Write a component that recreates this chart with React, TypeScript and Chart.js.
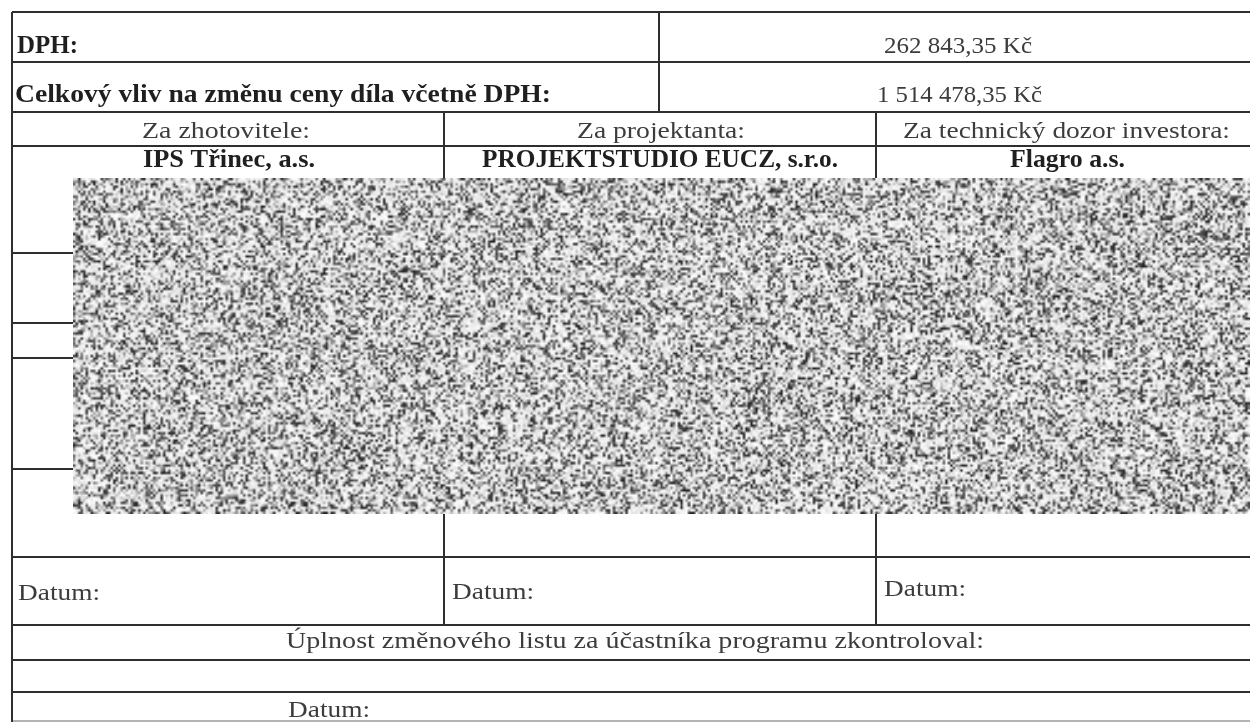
import React, { useEffect, useRef } from "react";
import { Chart, registerables } from "chart.js";

Chart.register(...registerables);

const W = 1250;
const H = 722;

// ---- texts of the form (data) ----
const summaryLabels = ["DPH:", "Celkový vliv na změnu ceny díla včetně DPH:"];
const amountLabels = ["262 843,35 Kč", "1 514 478,35 Kč"];
const roleLabels = ["Za zhotovitele:", "Za projektanta:", "Za technický dozor investora:"];
const partyLabels = ["IPS Třinec, a.s.", "PROJEKTSTUDIO EUCZ, s.r.o.", "Flagro a.s."];
const dateLabel = "Datum:";
const checkLabel = "Úplnost změnového listu za účastníka programu zkontroloval:";

// ---- layout (document units = pixels of the scan) ----
const fullRows = [12, 62, 112, 146, 557, 625, 660, 692];
const stubRows = [253, 323, 358, 469];
const tableLeft = 12;
const tableRight = 1250;
const stubRight = 73;
const vSegments: [number, number, number][] = [
  [12, 12, 722],
  [659, 12, 112],
  [444, 112, 625],
  [876, 112, 625],
];
const bottomEdge = 721;
const redaction = { x0: 73, y0: 178, x1: 1250, y1: 514 };

type TextItem = { text: string; left: number; width: number; base: number; bold: boolean };

const BOLD_COLOR = "#1f1f1f";
const REG_COLOR = "#3c3c3c";
const LINE_COLOR = "#2e2e2e";

const textItems: TextItem[] = [
  { text: summaryLabels[0], left: 17, width: 61, base: 53, bold: true },
  { text: summaryLabels[1], left: 15, width: 536, base: 102, bold: true },
  { text: amountLabels[0], left: 884, width: 148, base: 53, bold: false },
  { text: amountLabels[1], left: 877, width: 165, base: 102, bold: false },
  { text: roleLabels[0], left: 142, width: 168, base: 138, bold: false },
  { text: roleLabels[1], left: 577, width: 168, base: 138, bold: false },
  { text: roleLabels[2], left: 903, width: 327, base: 138, bold: false },
  { text: partyLabels[0], left: 143, width: 172, base: 167, bold: true },
  { text: partyLabels[1], left: 482, width: 356, base: 167, bold: true },
  { text: partyLabels[2], left: 1010, width: 115, base: 167, bold: true },
  { text: dateLabel, left: 18, width: 82, base: 600, bold: false },
  { text: dateLabel, left: 452, width: 82, base: 599, bold: false },
  { text: dateLabel, left: 884, width: 82, base: 596, bold: false },
  { text: checkLabel, left: 286, width: 698, base: 648, bold: false },
  { text: dateLabel, left: 288, width: 82, base: 717, bold: false },
];

function hash(i: number, j: number, s: number): number {
  let n = (Math.imul(i, 374761393) + Math.imul(j, 668265263) + Math.imul(s, 2246822519)) | 0;
  n = Math.imul(n ^ (n >>> 13), 1274126177);
  n = n ^ (n >>> 16);
  return (n >>> 0) / 4294967295;
}

function buildSegments() {
  const segs: { x: number; y: number }[][] = [];
  fullRows.forEach((y) => segs.push([{ x: tableLeft, y }, { x: tableRight, y }]));
  stubRows.forEach((y) => segs.push([{ x: tableLeft, y }, { x: stubRight, y }]));
  vSegments.forEach(([x, y0, y1]) => segs.push([{ x, y: y0 }, { x, y: y1 }]));
  return segs;
}

const formPlugin = {
  id: "formPlugin",
  afterDatasetsDraw(chart: any) {
    const ctx: CanvasRenderingContext2D = chart.ctx;
    const xs = chart.scales.x;
    const ys = chart.scales.y;
    // redaction texture of the scan
    const px0 = xs.getPixelForValue(redaction.x0);
    const px1 = xs.getPixelForValue(redaction.x1);
    const py0 = ys.getPixelForValue(redaction.y0);
    const py1 = ys.getPixelForValue(redaction.y1);
    const rw = Math.round(px1 - px0);
    const rh = Math.round(py1 - py0);
    const f = 2.5;
    const sw = Math.ceil(rw / f);
    const sh = Math.ceil(rh / f);
    const off = document.createElement("canvas");
    off.width = sw;
    off.height = sh;
    const octx = off.getContext("2d")!;
    const img = octx.createImageData(sw, sh);
    for (let j = 0; j < sh; j++) {
      for (let i = 0; i < sw; i++) {
        const v = hash(i, j, 1);
        const t = hash(i, j, 2);
        let g: number;
        if (v < 0.24) g = 30 + 80 * t;
        else if (v < 0.44) g = 125 + 75 * t;
        else g = 222 + 33 * t;
        const k = (j * sw + i) * 4;
        img.data[k] = g;
        img.data[k + 1] = g;
        img.data[k + 2] = g;
        img.data[k + 3] = 255;
      }
    }
    octx.putImageData(img, 0, 0);
    ctx.save();
    ctx.imageSmoothingEnabled = true;
    ctx.drawImage(off, 0, 0, sw, sh, px0, py0, rw, rh);
    ctx.restore();

    // texts
    ctx.save();
    ctx.textBaseline = "alphabetic";
    ctx.textAlign = "left";
    textItems.forEach((it) => {
      const size = it.bold ? 25 : 24;
      ctx.font = `${it.bold ? "bold " : ""}${size}px "Liberation Serif", serif`;
      ctx.fillStyle = it.bold ? BOLD_COLOR : REG_COLOR;
      const m = ctx.measureText(it.text).width;
      const x = xs.getPixelForValue(it.left);
      const x2 = xs.getPixelForValue(it.left + it.width);
      const y = ys.getPixelForValue(it.base);
      ctx.save();
      ctx.translate(x, y);
      ctx.scale((x2 - x) / m, 1);
      ctx.fillText(it.text, 0, 0);
      ctx.restore();
    });
    ctx.restore();
  },
};

export default function App() {
  const ref = useRef<HTMLCanvasElement | null>(null);
  useEffect(() => {
    document.body.style.margin = "0";
    document.body.style.background = "#ffffff";
    const canvas = ref.current!;
    const segs = buildSegments();
    const datasets: any[] = segs.map((s) => ({
      data: s,
      showLine: true,
      borderColor: LINE_COLOR,
      borderWidth: 2,
      pointRadius: 0,
      pointHoverRadius: 0,
      fill: false,
      clip: false,
    }));
    datasets.push({
      data: [
        { x: tableLeft, y: bottomEdge },
        { x: tableRight, y: bottomEdge },
      ],
      showLine: true,
      borderColor: "#9a9a9a",
      borderWidth: 1.5,
      pointRadius: 0,
      pointHoverRadius: 0,
      fill: false,
      clip: false,
    });
    const chart = new Chart(canvas, {
      type: "scatter",
      data: { datasets },
      options: {
        responsive: false,
        animation: false,
        devicePixelRatio: 1,
        layout: { padding: 0 },
        plugins: { legend: { display: false }, tooltip: { enabled: false } },
        events: [],
        scales: {
          x: { type: "linear", min: 0, max: W, display: false },
          y: { type: "linear", min: 0, max: H, reverse: true, display: false },
        },
      },
      plugins: [formPlugin],
    });
    return () => chart.destroy();
  }, []);
  return (
    <div style={{ position: "fixed", left: 0, top: 0, width: W, height: H, background: "#fff" }}>
      <canvas ref={ref} width={W} height={H} style={{ display: "block", width: W, height: H }} />
    </div>
  );
}
